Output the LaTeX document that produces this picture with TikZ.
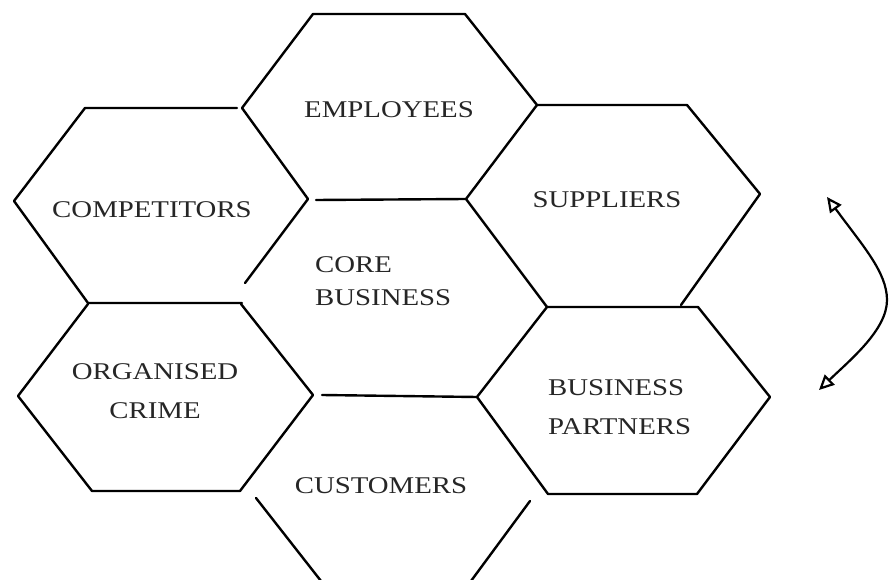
\documentclass[tikz,border=0pt]{standalone}
\usepackage{fontspec}
\setmainfont{Liberation Serif}[FakeStretch=1.2]
\usetikzlibrary{arrows.meta}
\begin{document}
\begin{tikzpicture}[x=1pt,y=-1pt,
  edge/.style={line width=2.4pt, line cap=round, line join=round},
  label/.style={inner sep=0pt, text=black!85, font=\fontsize{24}{39}\selectfont},
  cycle arrow/.style={line width=2.2pt,
    {Triangle[open,length=15pt,width=14pt]}-{Triangle[open,length=15pt,width=14pt]}}]
\useasboundingbox (0,0) rectangle (889,580);

% --- vertices of the honeycomb ---
% Employees
\coordinate (e1) at (313,14);  \coordinate (e2) at (465,14);
\coordinate (e3) at (537,105); \coordinate (e4) at (466,199);
\coordinate (e5) at (316,200); \coordinate (e6) at (242,108);
% Competitors
\coordinate (c1) at (85,108);  \coordinate (c2) at (237,108);
\coordinate (c3) at (308,199); \coordinate (c3b) at (245,283);
\coordinate (c4) at (242,303); \coordinate (c5) at (88,303);
\coordinate (c6) at (14,201);
% Suppliers
\coordinate (s2) at (687,105); \coordinate (s3) at (760,194);
\coordinate (s4) at (681,305); \coordinate (s5) at (547,307);
% Organised crime
\coordinate (o1) at (88,304);  \coordinate (o2) at (241,304);
\coordinate (o3) at (313,395); \coordinate (o4) at (240,491);
\coordinate (o5) at (92,491);  \coordinate (o6) at (18,396);
% Core business (lower edge)
\coordinate (k1) at (322,395); \coordinate (k2) at (477,397);
% Business partners
\coordinate (p1) at (547,307); \coordinate (p2) at (698,307);
\coordinate (p3) at (770,397); \coordinate (p4) at (697,494);
\coordinate (p5) at (548,494); \coordinate (p6) at (477,397);
% Customers (lower sides, running off the bottom)
\coordinate (u1) at (256,498); \coordinate (u2) at (321,581);
\coordinate (u3) at (530,501); \coordinate (u4) at (471,581);

% --- outlines ---
\draw[edge] (e6) -- (e1) -- (e2) -- (e3) -- (e4);
\draw[edge] (e5) -- (e4);
\draw[edge] (c2) -- (c1) -- (c6) -- (c5) -- (c4);
\draw[edge] (e6) -- (c3);
\draw[edge] (c3) -- (c3b);
\draw[edge] (e3) -- (s2) -- (s3) -- (s4);
\draw[edge] (e4) -- (s5);
\draw[edge] (o1) -- (o6) -- (o5) -- (o4) -- (o3) -- (o2);
\draw[edge] (k1) -- (k2);
\draw[edge] (p1) -- (p2) -- (p3) -- (p4) -- (p5) -- (p6) -- cycle;
\draw[edge] (u1) -- (u2);
\draw[edge] (u3) -- (u4);

% --- labels ---
\node[label] (employees) at (389,110) {EMPLOYEES};
\node[label] (competitors) at (152,210) {COMPETITORS};
\node[label] (suppliers) at (607,200) {SUPPLIERS};
\node[label, align=left, anchor=west, font=\fontsize{24}{33}\selectfont]
  (core) at (315,281.5) {CORE\\BUSINESS};
\node[label, align=center] (crime) at (155,391) {ORGANISED\\CRIME};
\node[label, align=left, anchor=west] (partners) at (548,407) {BUSINESS\\PARTNERS};
\node[label] (customers) at (381,486) {CUSTOMERS};

% --- two-way curved arrow ---
\coordinate (arrA) at (827,197);
\coordinate (arrB) at (819,390);
\draw[cycle arrow] (arrA) .. controls (862,245) and (887,272) .. (887,300)
  .. controls (887,330) and (850,360) .. (arrB);
\end{tikzpicture}
\end{document}
